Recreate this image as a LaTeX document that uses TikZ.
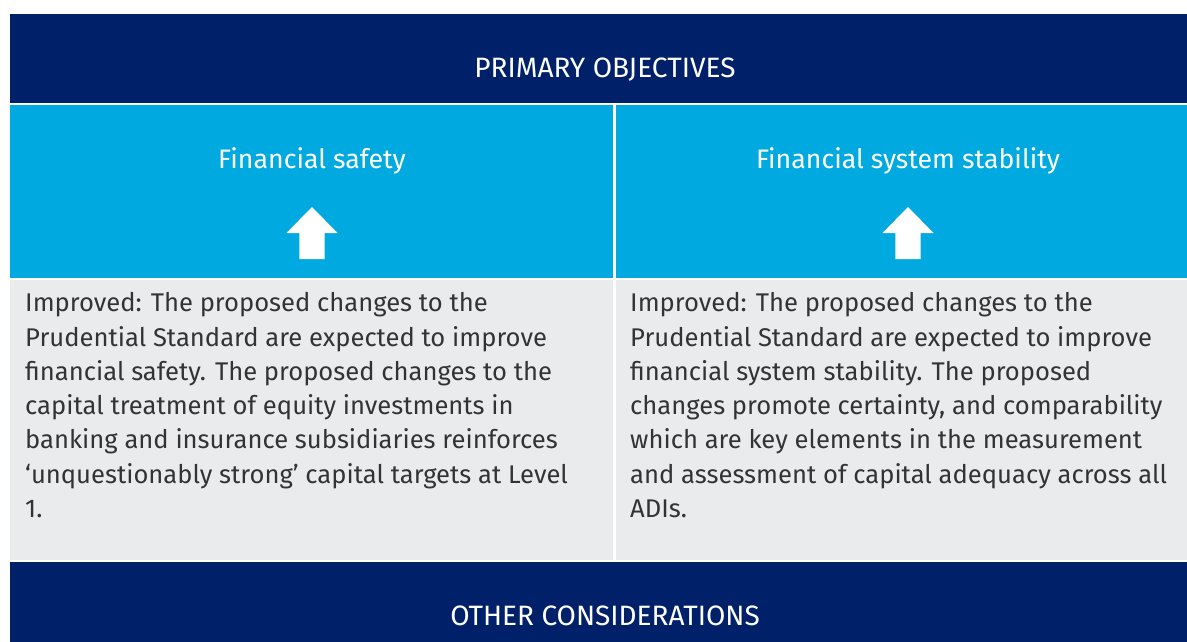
\documentclass[tikz,border=0pt]{standalone}
\usepackage{fontspec}
\setmainfont{Fira Sans}
\usepackage{xcolor}
\usepackage{tikz}
\usetikzlibrary{positioning}

\definecolor{navy}{HTML}{00216A}
\definecolor{skyblue}{HTML}{00AAE0}
\definecolor{cellgrey}{HTML}{EAEBED}
\definecolor{bodytext}{HTML}{333333}

\begin{document}
\begin{tikzpicture}[x=1pt,y=-1pt,
  band/.style={font=\fontsize{28}{32}\selectfont, text=white, inner sep=0pt, anchor=base},
  head/.style={font=\fontsize{26.7}{32}\selectfont, text=white, inner sep=0pt, anchor=base},
  body/.style={font=\fontsize{25.6}{34.3}\selectfont, text=bodytext, align=left, inner sep=0pt, anchor=base west},
  uparrow/.style={fill=white}]
\useasboundingbox (0,0) rectangle (1187,642);
\clip (0,0) rectangle (1187,642);
% backgrounds
\fill[navy] (10,14) rectangle (1200,103);
\fill[skyblue] (10,105) rectangle (613,278);
\fill[skyblue] (616,105) rectangle (1200,278);
\fill[cellgrey] (10,280) rectangle (613,560);
\fill[cellgrey] (616,280) rectangle (1200,560);
\fill[navy] (10,562) rectangle (1200,660);
% headings
\node[band] (primary) at (605,77.7) {PRIMARY OBJECTIVES};
\node[head] (safety) at (312,168.5) {Financial safety};
\node[head] (stability) at (908,168.5) {Financial system stability};
\node[band] (other) at (605,625.3) {OTHER CONSIDERATIONS};
% arrows
\coordinate (tipL) at (312,207);
\coordinate (tipR) at (908,207);
\foreach \t in {tipL,tipR}{
  \fill[uparrow] (\t) -- ++(25.5,26) -- ++(-12.8,0) -- ++(0,26) -- ++(-25.4,0) -- ++(0,-26) -- ++(-12.8,0) -- cycle;
}
% body text (anchored at the last baseline)
\node[body] (leftbody) at (25,517.5) {Improved: The proposed changes to the\\
Prudential Standard are expected to improve\\
financial safety. The proposed changes to the\\
capital treatment of equity investments in\\
banking and insurance subsidiaries reinforces\\
`unquestionably strong' capital targets at Level\\
1.};
\node[body] (rightbody) at (630,517.5) {Improved: The proposed changes to the\\
Prudential Standard are expected to improve\\
financial system stability. The proposed\\
changes promote certainty, and comparability\\
which are key elements in the measurement\\
and assessment of capital adequacy across all\\
ADIs.};
\end{tikzpicture}
\end{document}
